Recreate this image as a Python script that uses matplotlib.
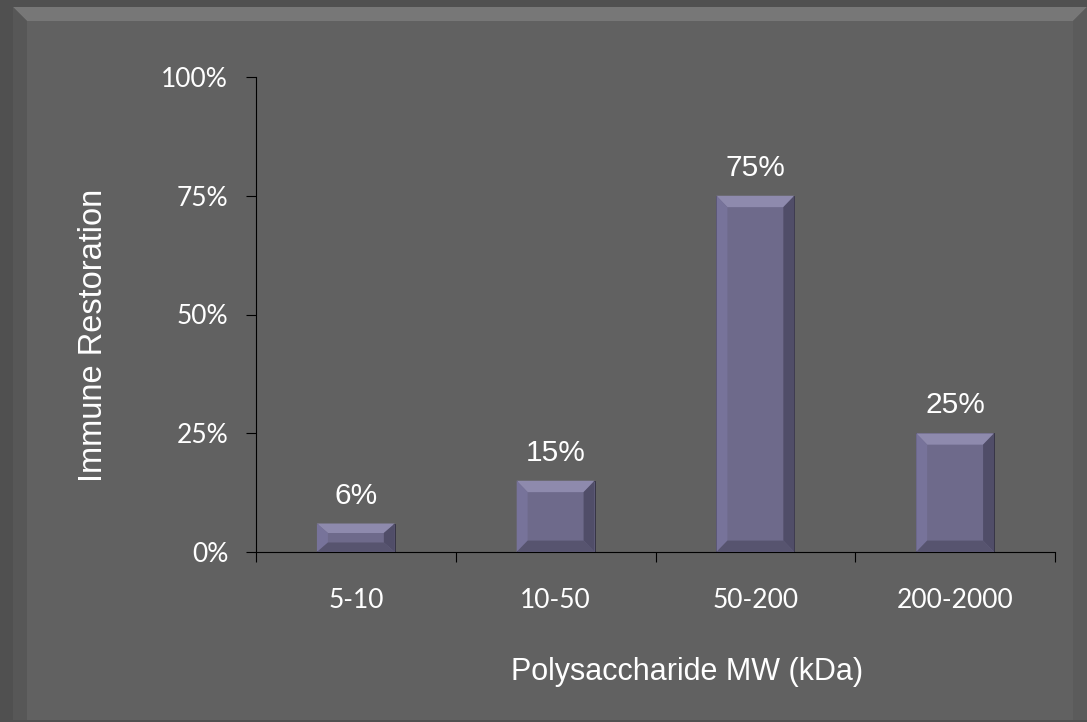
import matplotlib.pyplot as plt
from matplotlib.patches import Rectangle, Polygon

categories = ["5-10", "10-50", "50-200", "200-2000"]
values = [6, 15, 75, 25]
yticks = [0, 25, 50, 75, 100]
ytick_labels = ["0%", "25%", "50%", "75%", "100%"]

W, H = 1087, 722
fig = plt.figure(figsize=(W / 100, H / 100), dpi=100, facecolor="#505050")

# slide panel with a soft bevel
def px(x, y):
    return (x / W, 1 - y / H)

panel = [
    (Rectangle(px(13, 720), (W - 13) / W, (720 - 7) / H), "#616161"),
    (Polygon([px(13, 7), px(W, 7), px(W - 14, 21), px(27, 21)]), "#777777"),
    (Polygon([px(13, 7), px(27, 21), px(27, 720), px(13, 720)]), "#575757"),
    (Polygon([px(W, 7), px(W - 14, 21), px(W - 14, 720), px(W, 720)]), "#5b5b5b"),
]
for p, c in panel:
    p.set_transform(fig.transFigure)
    p.set_facecolor(c)
    p.set_edgecolor("none")
    p.set_zorder(-10)
    fig.patches.append(p)

ax = fig.add_axes([256 / W, 1 - 552 / H, (1055 - 256) / W, (552 - 77) / H])
ax.set_facecolor("none")

x = list(range(len(categories)))
width = 0.39
bars = ax.bar(x, values, width=width, color="#6e6a8b", edgecolor="#2e2c3c",
              linewidth=0.6, zorder=2)

# bevel facets on each bar
bx, by = 0.055, 2.4
for xi, v in zip(x, values):
    l, r = xi - width / 2, xi + width / 2
    b = min(by, v / 3)
    ax.add_patch(Polygon([(l, v), (r, v), (r - bx, v - b), (l + bx, v - b)],
                         facecolor="#8e8aad", edgecolor="none", zorder=3))
    ax.add_patch(Polygon([(r, v), (r, 0), (r - bx, b), (r - bx, v - b)],
                         facecolor="#504d68", edgecolor="none", zorder=3))
    ax.add_patch(Polygon([(l, v), (l, 0), (l + bx, b), (l + bx, v - b)],
                         facecolor="#77739a", edgecolor="none", zorder=3))
    ax.add_patch(Polygon([(l, 0), (r, 0), (r - bx, b), (l + bx, b)],
                         facecolor="#57546f", edgecolor="none", zorder=3))
    ax.annotate(f"{v}%", (xi, v), xytext=(0, 20), textcoords="offset points",
                ha="center", va="center", color="white", fontsize=21.5,
                family="Liberation Sans")

ax.set_xlim(-0.5, len(categories) - 0.5)
ax.set_ylim(0, 100)
ax.set_yticks(yticks)
ax.set_yticklabels(ytick_labels)
ax.set_xticks([i + 0.5 for i in x[:-1]] + [-0.5, len(categories) - 0.5], minor=False)
ax.set_xticklabels([])
ax.set_xticks(x, minor=True)
ax.set_xticklabels(categories, minor=True)
ax.tick_params(axis="x", which="minor", length=0, pad=26, labelsize=19,
               labelcolor="white")
ax.tick_params(axis="x", which="major", length=7, direction="out", color="black")
ax.tick_params(axis="y", length=7, direction="out", color="black", labelsize=19,
               labelcolor="white", pad=13)
for lbl in ax.get_xticklabels(minor=True) + ax.get_yticklabels():
    lbl.set_family("Lato")

for s in ["top", "right"]:
    ax.spines[s].set_visible(False)
ax.spines["left"].set_color("black")
ax.spines["bottom"].set_color("black")
ax.spines["left"].set_linewidth(0.8)
ax.spines["bottom"].set_linewidth(0.8)

ax.set_xlabel("Polysaccharide MW (kDa)", color="white", fontsize=22,
              family="Liberation Sans", va="center")
ax.set_ylabel("Immune Restoration", color="white", fontsize=23.5,
              family="Liberation Sans", va="center")
ax.xaxis.set_label_coords(0.539, -0.2526)
ax.yaxis.set_label_coords(-0.204, 0.455)

fig.savefig("out.png", dpi=100, facecolor=fig.get_facecolor())
